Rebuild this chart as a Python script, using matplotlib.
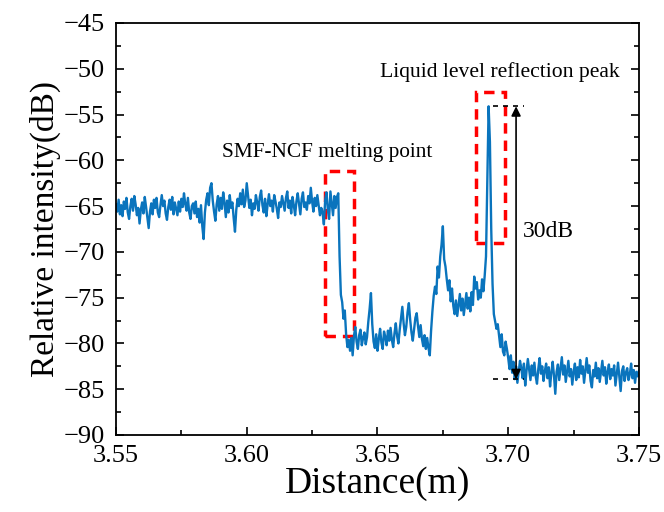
import numpy as np
import matplotlib
matplotlib.use("Agg")
import matplotlib.pyplot as plt
from matplotlib.patches import Rectangle
from matplotlib.ticker import MultipleLocator, FormatStrFormatter

plt.rcParams["font.family"] = ["Liberation Serif", "DejaVu Serif"]

# OFDR trace, one sample every 0.5 mm from 3.550 m to 3.750 m
distance = np.round(np.arange(3.550, 3.75025, 0.0005), 4)
intensity = [
    -64.8, -65.6, -64.3, -65.9, -64.9, -66.1, -64.5, -65.3, -64.1, -65.7,
    -66.4, -65.0, -64.2, -65.5, -63.9, -64.8, -66.0, -65.2, -66.9, -65.4,
    -64.6, -65.8, -64.0, -65.1, -66.3, -67.4, -65.6, -64.7, -65.9, -64.3,
    -65.2, -64.1, -65.7, -66.2, -64.9, -63.8, -65.0, -64.4, -65.8, -66.5,
    -65.1, -64.3, -65.4, -64.0, -65.9, -64.6, -65.3, -66.0, -64.5, -65.6,
    -64.2, -65.1, -63.6, -64.8, -65.5, -64.1, -65.7, -66.4, -65.0, -64.7,
    -65.8, -64.5, -66.2, -65.3, -66.8, -64.9, -67.2, -68.6, -65.7, -64.3,
    -63.6, -64.9, -63.0, -62.5, -64.4, -65.6, -66.6, -64.8, -63.9, -65.5,
    -64.1, -65.3, -63.5, -64.6, -66.2, -64.4, -65.7, -63.8, -65.2, -64.6,
    -66.3, -67.8, -65.4, -64.2, -65.0, -63.6, -64.8, -63.2, -65.1, -64.4,
    -62.5, -63.9, -65.2, -64.3, -66.0, -64.7, -65.3, -63.8, -64.6, -65.5,
    -64.0, -63.3, -64.9, -65.7, -64.2, -66.1, -64.8, -63.7, -65.0, -64.4,
    -65.6, -63.8, -64.5, -65.3, -66.3, -64.6, -65.1, -63.9, -64.7, -65.5,
    -64.1, -63.4, -65.2, -64.4, -65.8, -64.0, -64.9, -66.0, -64.5, -63.6,
    -64.8, -65.9, -64.2, -63.5, -65.1, -64.6, -65.4, -63.9, -64.7, -63.0,
    -64.5, -65.6, -64.1, -65.0, -63.8, -64.9, -66.0, -65.2, -65.7, -67.0,
    -64.3, -63.5, -65.4, -66.4, -63.4, -64.7, -66.0, -63.9, -65.2, -64.0,
    -63.6, -70.5, -74.7, -75.5, -77.3, -76.4, -79.0, -80.4, -79.6, -80.8,
    -79.4, -81.3, -79.2, -78.2, -79.8, -80.6, -79.1, -78.5, -80.2, -79.4,
    -78.8, -80.1, -79.3, -77.6, -76.2, -74.5, -77.9, -79.8, -80.5, -79.0,
    -80.8, -79.5, -78.4, -79.9, -80.6, -78.7, -79.3, -80.2, -78.6, -79.7,
    -78.3, -79.6, -80.4, -78.9, -77.8, -79.2, -80.0, -78.5, -77.3, -76.0,
    -77.8, -79.1, -78.2, -76.6, -75.6, -77.4, -78.8, -79.7, -78.4, -77.2,
    -76.7, -78.1, -79.3, -78.0, -79.5, -80.3, -79.1, -80.6, -79.4, -80.5,
    -81.3, -78.6, -76.5, -74.8, -73.8, -74.6, -71.6, -72.8, -70.5, -69.2,
    -67.2, -70.8, -71.6, -73.0, -74.2, -73.1, -75.4, -74.0, -75.9, -76.8,
    -75.3, -77.0, -75.8, -74.6, -76.4, -75.1, -76.9, -75.7, -74.5, -76.2,
    -75.0, -76.5, -74.4, -75.8, -72.7, -74.0, -73.3, -75.2, -74.2, -75.0,
    -73.0, -74.3, -72.6, -70.5, -62.0, -54.1, -58.0, -67.5, -73.5, -76.8,
    -77.6, -78.4, -77.9, -79.2, -80.4, -79.0, -80.9, -81.3, -79.8, -80.6,
    -81.6, -82.8, -81.3, -83.2, -82.0, -83.9, -82.5, -84.3, -83.1, -81.9,
    -82.7, -83.8, -82.2, -84.6, -83.0, -81.7, -82.9, -84.0, -82.4, -83.5,
    -82.1, -83.6, -84.4, -82.8, -81.6, -83.3, -82.5, -84.1, -83.0, -82.2,
    -83.8, -82.6, -84.7, -83.2, -82.0, -83.5, -85.5, -83.1, -82.3, -84.0,
    -82.7, -81.5, -83.4, -82.4, -84.2, -83.0, -81.9, -83.6, -82.8, -84.5,
    -83.1, -82.2, -84.0, -82.6, -83.7, -81.8, -83.3, -82.5, -84.3, -83.0,
    -81.6, -83.2, -82.4, -84.1, -84.8, -82.9, -83.6, -82.1, -83.8, -82.7,
    -84.2, -83.0, -81.9, -83.5, -82.6, -84.4, -83.1, -82.3, -83.9, -82.8,
    -83.5, -82.4, -84.6, -83.3, -82.1, -83.7, -85.2, -83.0, -82.5, -84.1,
    -83.2, -82.7, -84.0, -83.4, -82.2, -83.8, -82.9, -84.3, -83.1, -83.6,
    -83.0,
]
assert len(distance) == len(intensity)

# marked regions (x0, x1, y0, y1)
melt_box = (3.6299, 3.6410, -79.2, -61.2)
peak_box = (3.6877, 3.6988, -69.0, -52.5)
peak_level = -54.1
floor_level = -83.9

fig = plt.figure(figsize=(6.64, 5.12), dpi=100)
ax = fig.add_axes([0.1747, 0.1504, 0.7876, 0.8047])

ax.plot(distance, intensity, color="#0a74bd", lw=1.7)

for x0, x1, y0, y1 in (melt_box, peak_box):
    ax.add_patch(Rectangle((x0, y0), x1 - x0, y1 - y0, fill=False,
                           edgecolor="red", lw=2.5, linestyle=(0, (3, 2))))

ax.hlines([peak_level, floor_level], 3.6942, 3.7060, colors="black",
          lw=1.2, linestyles=(0, (3, 3)))
ax.annotate("", xy=(3.7030, peak_level), xytext=(3.7030, floor_level),
            arrowprops=dict(arrowstyle="<|-|>", color="black", lw=1.2,
                            mutation_scale=14, shrinkA=0, shrinkB=0))

ax.text(3.7056, -67.8, "30dB", fontsize=17, va="center")
ax.text(3.5905, -59.2, "SMF-NCF melting point", fontsize=15.3, va="center")
ax.text(3.6510, -50.35, "Liquid level reflection peak", fontsize=15.6, va="center")

ax.set_xlim(3.55, 3.75)
ax.set_ylim(-90, -45)
ax.xaxis.set_major_locator(MultipleLocator(0.05))
ax.xaxis.set_minor_locator(MultipleLocator(0.025))
ax.yaxis.set_major_locator(MultipleLocator(5))
ax.yaxis.set_minor_locator(MultipleLocator(2.5))
ax.xaxis.set_major_formatter(FormatStrFormatter("%.2f"))
ax.tick_params(which="both", direction="in", right=True, top=False,
               labelsize=19, width=1.2)
ax.tick_params(which="major", length=6)
ax.tick_params(which="minor", length=3.5)
ax.tick_params(axis="x", pad=7)
ax.tick_params(axis="y", pad=8)
for s in ax.spines.values():
    s.set_linewidth(1.3)

ax.set_xlabel("Distance(m)", fontsize=27, labelpad=0)
ax.set_ylabel("Relative intensity(dB)", fontsize=24, labelpad=2)

fig.savefig("out.png", dpi=100)
